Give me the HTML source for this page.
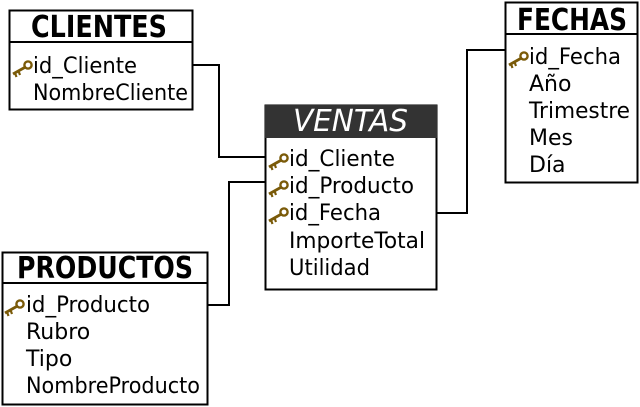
<!DOCTYPE html>
<html><head><meta charset="utf-8"><style>body{margin:0;background:#fff}svg{display:block}</style></head><body>
<svg width="640" height="407" viewBox="0 0 640 407" xmlns="http://www.w3.org/2000/svg" font-family="DejaVu Sans, Liberation Sans, sans-serif">
<defs>
<g id="k">
<circle cx="17" cy="-8" r="3.6" fill="none" stroke="#7a5a08" stroke-width="2.4"/>
<line x1="14.5" y1="-6" x2="2" y2="1" stroke="#7a5a08" stroke-width="2.8"/>
<line x1="4" y1="0" x2="5.5" y2="4" stroke="#7a5a08" stroke-width="2.2"/>
<line x1="7.5" y1="-2" x2="9" y2="2" stroke="#7a5a08" stroke-width="2.2"/>
</g>
</defs>
<g fill="none" stroke="#000" stroke-width="2">
<polyline points="193,65 219,65 219,157 265,157"/>
<polyline points="208,305 229,305 229,182 265,182"/>
<polyline points="437,213 467,213 467,50 505,50"/>
</g>
<g font-size="22">
<rect x="9.5" y="10.5" width="183" height="99" fill="#fff" stroke="#000" stroke-width="2"/>
<line x1="9" y1="42" x2="193" y2="42" stroke="#000" stroke-width="2"/>
<text x="31" y="37" font-size="30" font-weight="bold" textLength="136" lengthAdjust="spacingAndGlyphs">CLIENTES</text>
<use href="#k" x="11" y="73"/>
<text x="33" y="73" textLength="104" lengthAdjust="spacingAndGlyphs">id_Cliente</text>
<text x="33" y="100" textLength="155" lengthAdjust="spacingAndGlyphs">NombreCliente</text>
<rect x="265.5" y="105.5" width="171" height="184" fill="#fff" stroke="#000" stroke-width="2"/>
<rect x="265" y="105" width="172" height="33" fill="#333"/>
<text x="293" y="131" font-size="30" font-style="italic" fill="#fff" textLength="115" lengthAdjust="spacingAndGlyphs">VENTAS</text>
<use href="#k" x="267" y="166"/>
<use href="#k" x="267" y="193"/>
<use href="#k" x="267" y="220"/>
<text x="289" y="166" textLength="106" lengthAdjust="spacingAndGlyphs">id_Cliente</text>
<text x="289" y="193" textLength="125" lengthAdjust="spacingAndGlyphs">id_Producto</text>
<text x="289" y="220" textLength="92" lengthAdjust="spacingAndGlyphs">id_Fecha</text>
<text x="289" y="248" textLength="136" lengthAdjust="spacingAndGlyphs">ImporteTotal</text>
<text x="289" y="275" textLength="81" lengthAdjust="spacingAndGlyphs">Utilidad</text>
<rect x="505.5" y="2.5" width="132" height="180" fill="#fff" stroke="#000" stroke-width="2"/>
<line x1="505" y1="34" x2="638" y2="34" stroke="#000" stroke-width="2"/>
<text x="517" y="30" font-size="30" font-weight="bold" textLength="110" lengthAdjust="spacingAndGlyphs">FECHAS</text>
<use href="#k" x="507" y="64"/>
<text x="529" y="64" textLength="92" lengthAdjust="spacingAndGlyphs">id_Fecha</text>
<text x="529" y="91">Año</text>
<text x="529" y="118" textLength="101" lengthAdjust="spacingAndGlyphs">Trimestre</text>
<text x="529" y="145">Mes</text>
<text x="529" y="172">Día</text>
<rect x="2.5" y="252.5" width="205" height="152" fill="#fff" stroke="#000" stroke-width="2"/>
<line x1="2" y1="283" x2="208" y2="283" stroke="#000" stroke-width="2"/>
<text x="17" y="278" font-size="30" font-weight="bold" textLength="176" lengthAdjust="spacingAndGlyphs">PRODUCTOS</text>
<use href="#k" x="3" y="312"/>
<text x="26" y="312" textLength="124" lengthAdjust="spacingAndGlyphs">id_Producto</text>
<text x="26" y="339">Rubro</text>
<text x="26" y="366">Tipo</text>
<text x="26" y="393" textLength="174" lengthAdjust="spacingAndGlyphs">NombreProducto</text>
</g>
</svg>
</body></html>
